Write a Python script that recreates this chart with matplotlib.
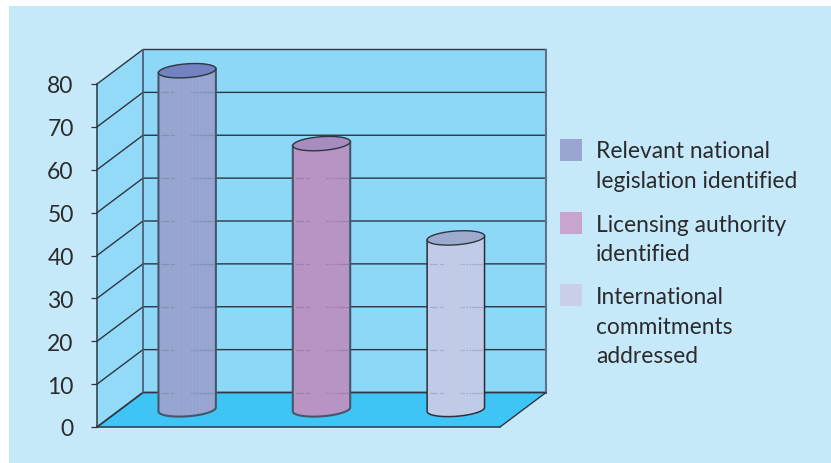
import numpy as np
import matplotlib
matplotlib.use("Agg")
import matplotlib.pyplot as plt
from matplotlib.patches import Polygon, Rectangle

# Chart content
categories = ["Relevant national\nlegislation identified",
              "Licensing authority\nidentified",
              "International\ncommitments\naddressed"]
values = [79, 62, 40]
yticks = [0, 10, 20, 30, 40, 50, 60, 70, 80]

# Colours per series: swatch, body, cap, stripe, outline
swatch_colors = ["#9AA5D1", "#C9A4CF", "#C9CFE8"]
body_colors = ["#98A3D0", "#BB93C3", "#C2CAE6"]
cap_colors = ["#7383C1", "#A78CBF", "#9EA9CE"]
stripe_colors = ["#8FB0D8", "#A89BCB", "#B4D2EE"]
outline_colors = ["#46566A", "#46566A", "#2B3038"]
outline_widths = [1.5, 1.5, 1.1]
panel_color = "#C6E9FA"
wall_color = "#8DD7F7"
floor_color = "#3EC5F5"
line_color = "#2E3640"
text_color = "#2B2B2E"

W, H = 831, 464
plt.rcParams["font.family"] = ["Lato", "DejaVu Sans"]
fig = plt.figure(figsize=(W / 100, H / 100), dpi=100, facecolor="white")


def fx(px):
    return px / W


def fy(py):
    return (H - py) / H


fig.add_artist(Rectangle((fx(9), 0), 1 - fx(9), fy(6.5), transform=fig.transFigure,
                         facecolor=panel_color, edgecolor="none", zorder=-5))

# The axes frame is the front plane of the 3-D box
ax = fig.add_axes([fx(97), fy(428), fx(500) - fx(97), fy(85) - fy(428)])
ax.set_xlim(-0.5, 2.5)
ax.set_ylim(0, 80)
ax.patch.set_visible(False)
for side in ("top", "right"):
    ax.spines[side].set_visible(False)
for side in ("left", "bottom"):
    ax.spines[side].set_color(line_color)
    ax.spines[side].set_linewidth(1.1)
    ax.spines[side].set_zorder(6)
ax.set_xticks([])
ax.set_yticks(yticks)
ax.tick_params(axis="y", length=4.3, width=0.9, color=line_color,
               labelsize=16.5, labelcolor=text_color, pad=12.5)

# Scale factors between pixels and data units
px_x = 3 / 403
px_y = 80 / 343
depth_x = 46 * px_x
depth_y = 34.5 * px_y
x0, x1 = -0.5, 2.5
top = 80

# Walls and floor
ax.add_patch(Polygon([(x0 + depth_x, depth_y), (x1 + depth_x, depth_y),
                      (x1 + depth_x, top + depth_y), (x0 + depth_x, top + depth_y)],
                     facecolor=wall_color, edgecolor="none", clip_on=False, zorder=1))
ax.add_patch(Polygon([(x0, 0), (x0 + depth_x, depth_y),
                      (x0 + depth_x, top + depth_y), (x0, top)],
                     facecolor="#93D9F8", edgecolor="none", clip_on=False, zorder=1))
ax.add_patch(Polygon([(x0, 0), (x1, 0), (x1 + depth_x, depth_y), (x0 + depth_x, depth_y)],
                     facecolor=floor_color, edgecolor="none", clip_on=False, zorder=1))

# Gridlines wrap round the side wall and along the back wall
for v in yticks:
    ax.plot([x0, x0 + depth_x, x1 + depth_x], [v, v + depth_y, v + depth_y],
            color=line_color, lw=1.3 if v == 0 else 1.0, clip_on=False, zorder=2,
            solid_joinstyle="miter")
ax.plot([x0 + depth_x] * 2, [depth_y, top + depth_y], color="#45586A", lw=1.2,
        clip_on=False, zorder=2)
ax.plot([x1 + depth_x] * 2, [depth_y, top + depth_y], color="#5A7488", lw=1.5,
        clip_on=False, zorder=2)
ax.plot([x1, x1 + depth_x], [0, depth_y], color=line_color, lw=1.0, clip_on=False, zorder=2)

# Cylinders
half_w = 28.7 * px_x
minor = 6.9 * px_y
tilt = 2.0 * px_y
base = 4.1
centre_shift = 0.5 * depth_x
t = np.linspace(0, 2 * np.pi, 121)
stripes = [-25, -22, -17, -13, -9, -4, 0, 5, 8, 12, 14, 17, 20, 23, 26]
dashes = [-26, -24, -22, -20, -16, -14, 4, 7, 10, 13, 16, 18, 20, 22, 24, 26]

for i, v in enumerate(values):
    cx = i + centre_shift
    ytop = base + v
    ex = cx + half_w * np.cos(t)
    low = np.linspace(np.pi, 2 * np.pi, 61)
    lx = cx + half_w * np.cos(low)
    ly = base + minor * np.sin(low) + tilt * np.cos(low)
    ux = cx + half_w
    body = list(zip(lx, ly)) + [(ux, ytop + tilt), (cx - half_w, ytop - tilt)]
    ax.add_patch(Polygon(body, closed=True, facecolor=body_colors[i], edgecolor="none",
                         clip_on=False, zorder=3))
    # Fine vertical shading in the cylinder wall
    for s in stripes:
        sx = cx + s * px_x
        u = s / 28.7
        y_low = base - minor * np.sqrt(max(1 - u * u, 0)) + tilt * u
        ax.plot([sx, sx], [y_low, ytop + tilt * u], color=stripe_colors[i], lw=0.7,
                alpha=0.6, clip_on=False, zorder=3.1)
    # Gridlines faintly showing through the wall
    for g in yticks:
        if base < g + depth_y < ytop:
            for d in dashes:
                ax.plot([cx + d * px_x, cx + (d + 1) * px_x], [g + depth_y] * 2,
                        color=line_color, lw=0.9, alpha=0.35, clip_on=False,
                        solid_capstyle="butt", zorder=3.2)
    # Outline of wall and base
    ax.plot(np.r_[cx - half_w, lx, ux], np.r_[ytop - tilt, ly, ytop + tilt],
            color=outline_colors[i], lw=outline_widths[i], clip_on=False, zorder=3.3)
    # Top cap
    ey = ytop + minor * np.sin(t) + tilt * np.cos(t)
    ax.add_patch(Polygon(np.column_stack([ex, ey]), closed=True, facecolor=cap_colors[i],
                         edgecolor=line_color, lw=1.0, clip_on=False, zorder=3.4))

# Legend entries
legend_first_line = [152, 225.5, 298]
swatch_tops = [140, 213, 285]
line_step = 29.3
for label, first, s_top, col in zip(categories, legend_first_line, swatch_tops, swatch_colors):
    fig.add_artist(Rectangle((fx(560), fy(s_top + 22)), 22 / W, 22 / H,
                             transform=fig.transFigure, facecolor=col, edgecolor="none"))
    for k, line in enumerate(label.split("\n")):
        fig.text(fx(596), fy(first + k * line_step), line, fontsize=16.4, color=text_color,
                 ha="left", va="center")

fig.savefig("out.png", dpi=100, facecolor="white")
